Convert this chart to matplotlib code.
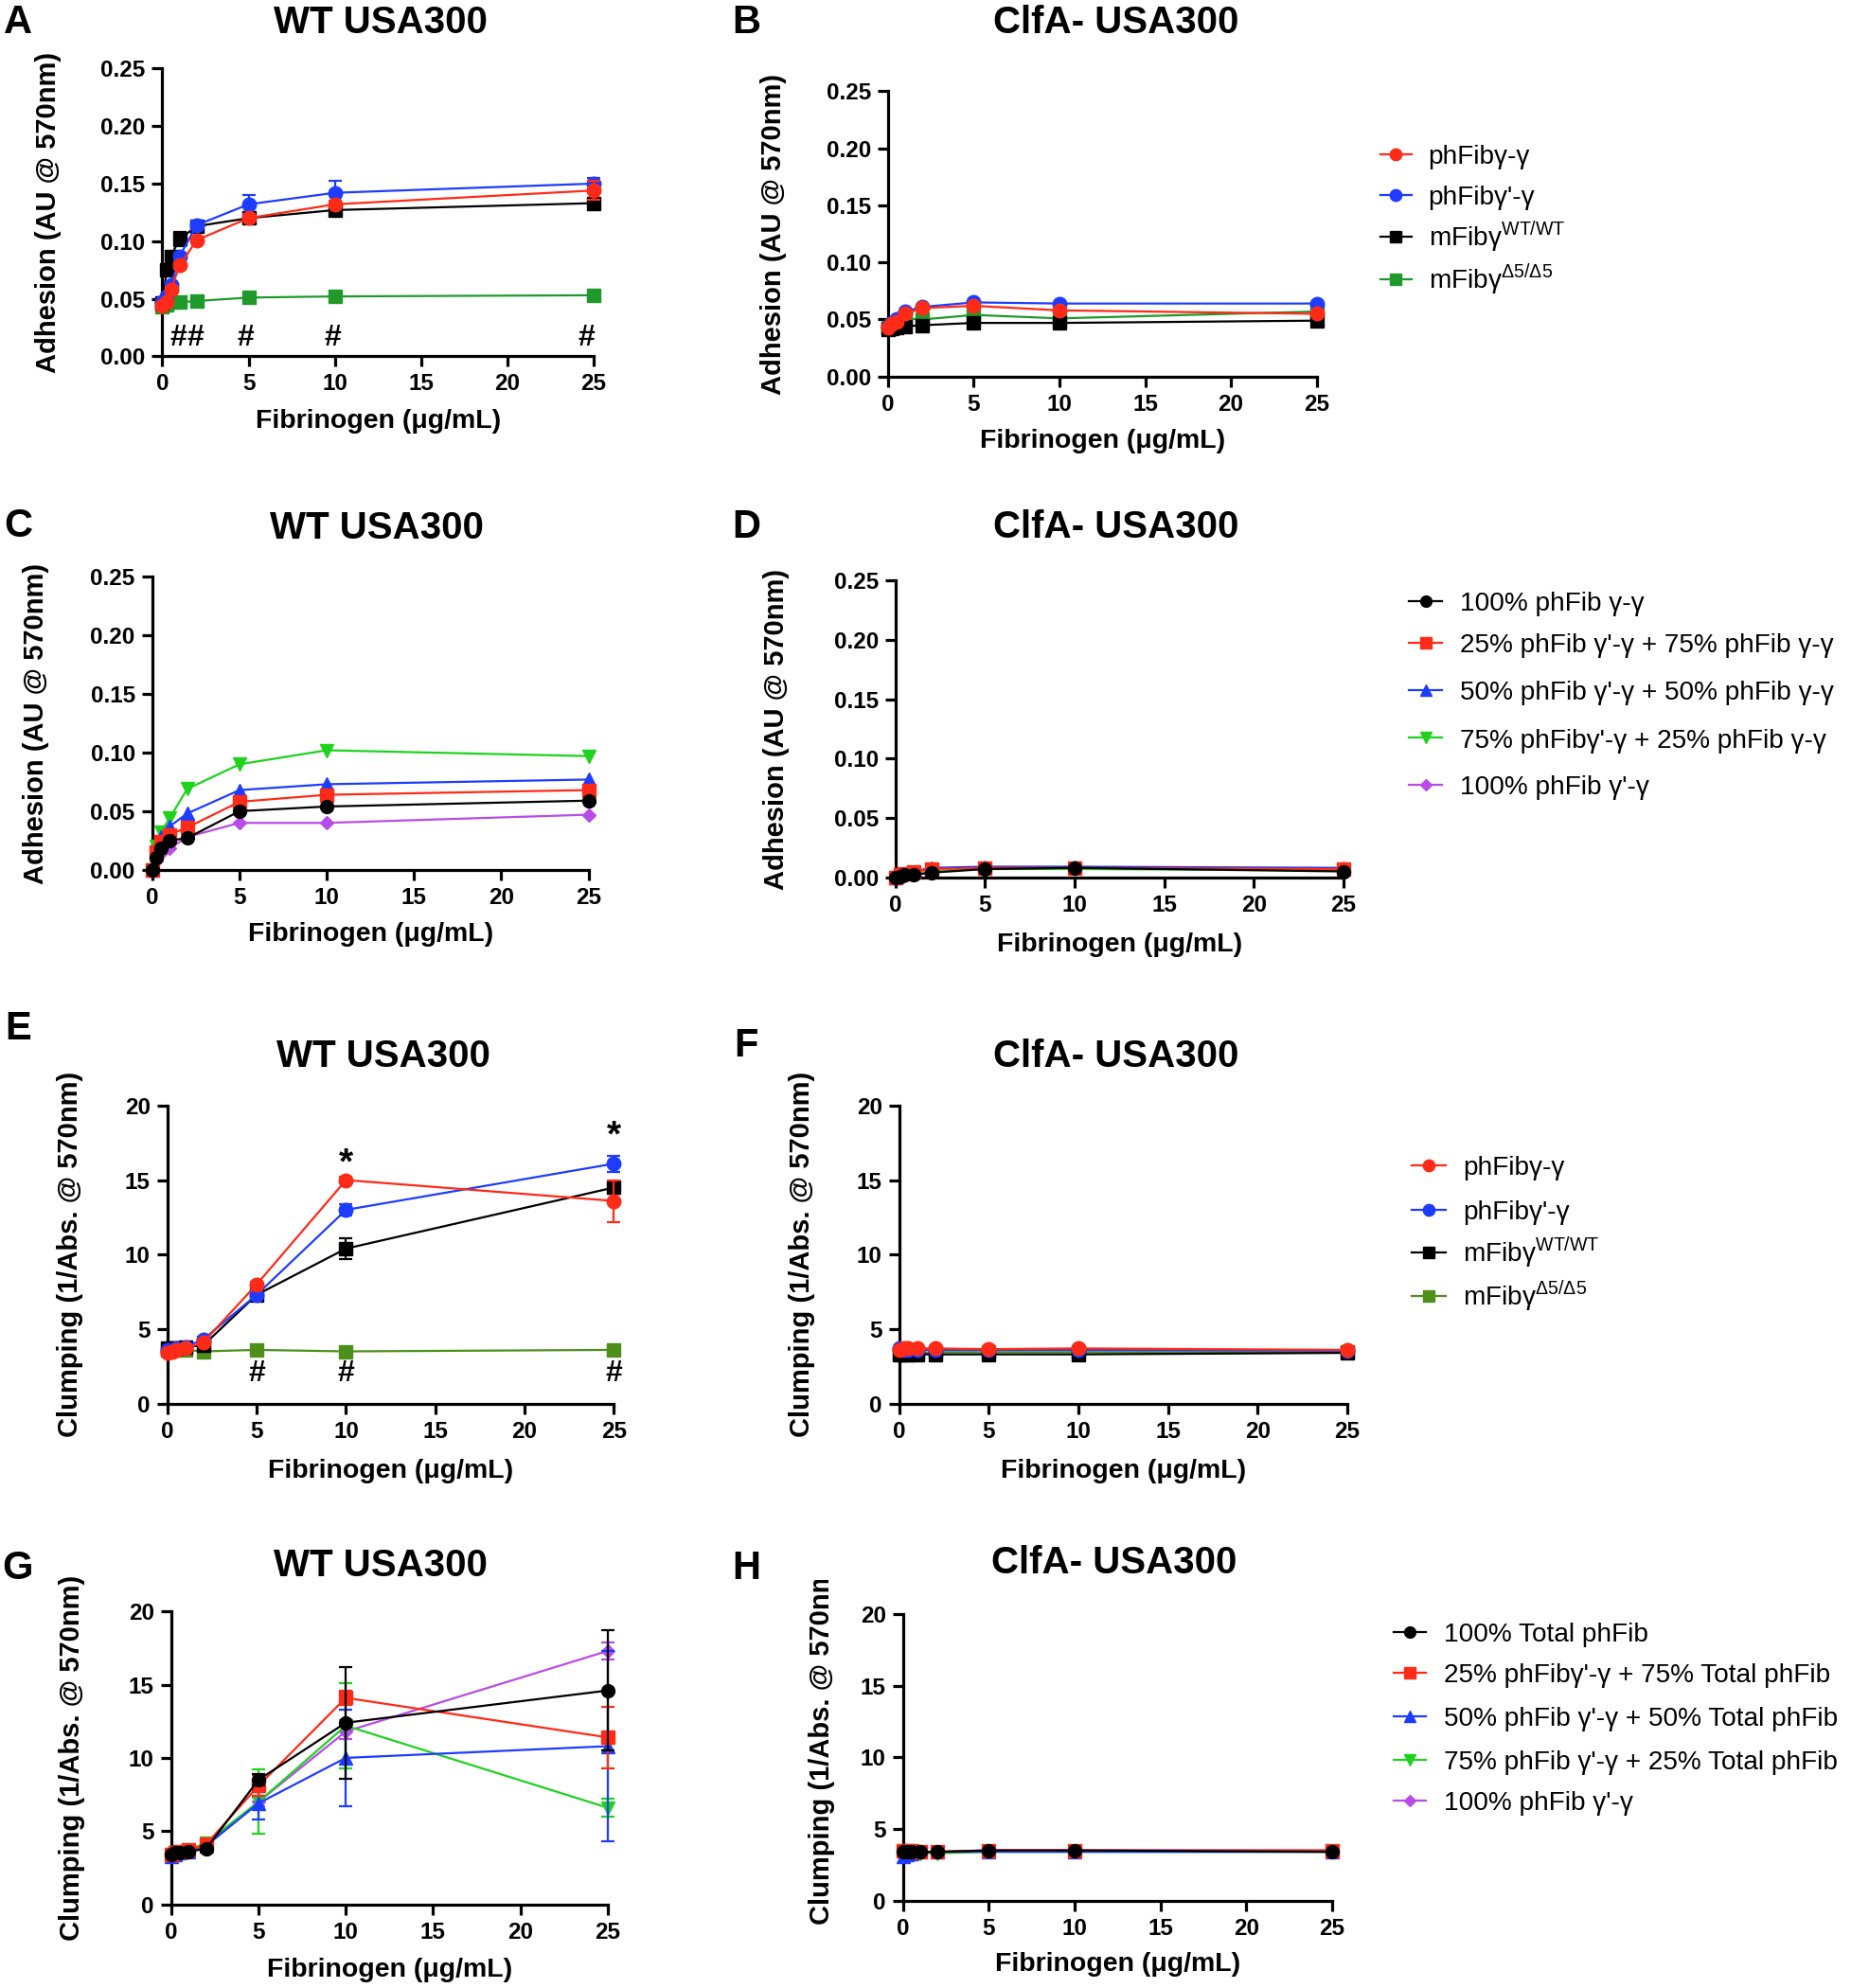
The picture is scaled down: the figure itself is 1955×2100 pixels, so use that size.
import numpy as np
import matplotlib
matplotlib.use('Agg')
import matplotlib.pyplot as plt
from matplotlib.lines import Line2D
from matplotlib.ticker import MultipleLocator, FormatStrFormatter
from matplotlib.transforms import Bbox, TransformedBbox

plt.rcParams['font.family'] = ['Liberation Sans', 'DejaVu Sans']
plt.rcParams['mathtext.fontset'] = 'custom'
plt.rcParams['mathtext.rm'] = 'Liberation Sans'

# fibrinogen concentrations (ug/mL)
fib = [0, 0.25, 0.5, 1, 2, 5, 10, 25]

# A: adhesion, WT USA300
a_red = [0.044, 0.047, 0.058, 0.079, 0.101, 0.120, 0.132, 0.144]
a_blue = [0.047, 0.052, 0.062, 0.087, 0.114, 0.132, 0.142, 0.150]
a_black = [0.046, 0.075, 0.087, 0.102, 0.113, 0.120, 0.127, 0.133]
a_green = [0.043, 0.045, 0.047, 0.047, 0.048, 0.051, 0.052, 0.053]
a_red_err = [0, 0, 0.002, 0.003, 0.002, 0.002, 0.003, 0.008]
a_blue_err = [0, 0, 0.002, 0.003, 0.004, 0.008, 0.010, 0.005]
a_black_err = [0, 0.003, 0.004, 0.006, 0.003, 0.002, 0.002, 0.003]

# B: adhesion, ClfA- USA300
b_red = [0.043, 0.046, 0.048, 0.055, 0.060, 0.062, 0.058, 0.055]
b_blue = [0.044, 0.047, 0.050, 0.057, 0.061, 0.065, 0.064, 0.064]
b_black = [0.041, 0.042, 0.043, 0.044, 0.045, 0.047, 0.047, 0.049]
b_green = [0.043, 0.045, 0.047, 0.051, 0.050, 0.054, 0.051, 0.057]

# C: adhesion with mixtures, WT USA300
c_black = [0.000, 0.010, 0.018, 0.025, 0.027, 0.050, 0.054, 0.059]
c_red = [0.000, 0.015, 0.024, 0.030, 0.036, 0.058, 0.064, 0.068]
c_blue = [0.000, 0.018, 0.028, 0.037, 0.048, 0.068, 0.073, 0.077]
c_green = [0.000, 0.020, 0.032, 0.044, 0.069, 0.090, 0.102, 0.097]
c_purple = [0.000, 0.008, 0.014, 0.018, 0.028, 0.040, 0.040, 0.047]

# D: adhesion with mixtures, ClfA- USA300
d_black = [0.000, 0.001, 0.002, 0.002, 0.004, 0.007, 0.008, 0.005]
d_red = [0.000, 0.002, 0.003, 0.005, 0.007, 0.008, 0.008, 0.007]
d_blue = [0.000, 0.002, 0.003, 0.005, 0.008, 0.009, 0.009, 0.008]
d_green = [0.000, 0.001, 0.002, 0.003, 0.005, 0.007, 0.007, 0.006]
d_purple = [0.000, 0.001, 0.002, 0.003, 0.005, 0.007, 0.008, 0.007]

# E: clumping, WT USA300
e_red = [3.4, 3.5, 3.6, 3.7, 4.1, 8.0, 15.0, 13.6]
e_blue = [3.6, 3.6, 3.7, 3.8, 4.3, 7.3, 13.0, 16.1]
e_black = [3.7, 3.7, 3.7, 3.8, 3.9, 7.3, 10.4, 14.5]
e_green = [3.6, 3.6, 3.6, 3.6, 3.5, 3.6, 3.5, 3.6]
e_red_err = [0, 0, 0, 0, 0, 0.2, 0.2, 1.4]
e_blue_err = [0, 0, 0, 0, 0.2, 0.3, 0.4, 0.55]
e_black_err = [0, 0, 0, 0, 0, 0.3, 0.7, 0.4]

# F: clumping, ClfA- USA300
f_red = [3.6, 3.7, 3.7, 3.7, 3.7, 3.65, 3.7, 3.6]
f_blue = [3.7, 3.6, 3.6, 3.6, 3.6, 3.6, 3.6, 3.55]
f_black = [3.3, 3.3, 3.3, 3.3, 3.3, 3.3, 3.3, 3.4]
f_green = [3.4, 3.4, 3.4, 3.4, 3.45, 3.45, 3.45, 3.45]

# G: clumping with mixtures, WT USA300
g_black = [3.4, 3.5, 3.5, 3.6, 3.8, 8.5, 12.4, 14.6]
g_red = [3.4, 3.5, 3.6, 3.7, 4.1, 8.1, 14.1, 11.4]
g_blue = [3.3, 3.4, 3.5, 3.6, 4.0, 6.9, 10.0, 10.8]
g_green = [3.4, 3.5, 3.6, 3.7, 4.2, 7.0, 12.2, 6.6]
g_purple = [3.4, 3.5, 3.6, 3.7, 4.0, 7.0, 11.8, 17.3]
g_black_err = [0, 0, 0, 0.1, 0.2, 0.4, 3.8, 4.1]
g_red_err = [0, 0, 0, 0.1, 0.2, 0.7, 0.5, 2.1]
g_blue_err = [0, 0, 0, 0.1, 0.2, 1.1, 3.3, 6.5]
g_green_err = [0, 0, 0, 0.1, 0.2, 2.2, 2.9, 0.6]
g_purple_err = [0, 0, 0, 0.1, 0.2, 0.3, 0.5, 0.6]

# H: clumping with mixtures, ClfA- USA300
h_black = [3.4, 3.4, 3.4, 3.4, 3.4, 3.5, 3.5, 3.4]
h_red = [3.5, 3.5, 3.5, 3.4, 3.4, 3.5, 3.5, 3.5]
h_blue = [3.1, 3.2, 3.3, 3.4, 3.4, 3.4, 3.4, 3.4]
h_green = [3.4, 3.4, 3.4, 3.3, 3.3, 3.4, 3.4, 3.4]
h_purple = [3.4, 3.4, 3.4, 3.4, 3.4, 3.5, 3.5, 3.5]

# significance marks
a_hash_x = [0.9, 1.9, 4.8, 9.9, 24.6]
a_hash_y = 0.016
e_hash_x = [5, 10, 25]
e_hash_y = 2.0
e_star_x = [10, 25]
e_star_y = [16.1, 17.9]

labels_ab = ['phFibγ-γ', "phFibγ'-γ", r'mFibγ$^{\mathregular{WT/WT}}$',
             r'mFibγ$^{\mathregular{Δ5/Δ5}}$']
labels_cd = ['100% phFib γ-γ', "25% phFib γ'-γ + 75% phFib γ-γ",
             "50% phFib γ'-γ + 50% phFib γ-γ", "75% phFibγ'-γ + 25% phFib γ-γ",
             "100% phFib γ'-γ"]
labels_gh = ['100% Total phFib', "25% phFibγ'-γ + 75% Total phFib",
             "50% phFib γ'-γ + 50% Total phFib", "75% phFib γ'-γ + 25% Total phFib",
             "100% phFib γ'-γ"]

RED = '#ff2a17'
BLUE = '#1e3cff'
BLACK = '#000000'
GREEN_AB = '#1f9a2a'
GREEN_EF = '#4e8f1c'
GREEN_C = '#1ed21e'
PURPLE = '#b94ce8'

W, H = 1460.0, 1568.0  # layout measured in reference display pixels


def fx(x):
    return x / W


def fy(y):
    return 1 - y / H


fig = plt.figure(figsize=(19.56, 21.0), dpi=100)


def make_axes(l, r, t, b, ymax, ystep, fmt, ylabel, ylab_x, xlab_y, ylab_y=None):
    ax = fig.add_axes([fx(l), fy(b), (r - l) / W, (b - t) / H])
    ax.set_xlim(0, 25)
    ax.set_ylim(0, ymax)
    ax.xaxis.set_major_locator(MultipleLocator(5))
    ax.yaxis.set_major_locator(MultipleLocator(ystep))
    ax.yaxis.set_major_formatter(FormatStrFormatter(fmt))
    for s in ['top', 'right']:
        ax.spines[s].set_visible(False)
    for s in ['left', 'bottom']:
        ax.spines[s].set_linewidth(2.3)
    ax.tick_params(direction='out', length=8, width=2.3, labelsize=17.5, pad=5)
    for lab in ax.get_xticklabels() + ax.get_yticklabels():
        lab.set_fontweight('bold')
    ax.set_xlabel('Fibrinogen (μg/mL)', fontsize=20.5, fontweight='bold', va='center')
    ax.set_ylabel(ylabel, fontsize=21, fontweight='bold', va='center')
    ax.xaxis.set_label_coords(0.5, (b - xlab_y) / (b - t))
    if ylab_y is None:
        ylab_y = (t + b) / 2
    ax.yaxis.set_label_coords((ylab_x - l) / (r - l), (b - ylab_y) / (b - t))
    return ax


def draw(ax, series):
    # series: list of (values, errors, colour, marker, size); first one drawn on top
    n = len(series)
    for i, (vals, err, col, mk, ms) in enumerate(series):
        z = 10 + n - i
        ax.plot(fib, vals, color=col, marker=mk, markersize=ms, lw=1.6,
                clip_on=False, zorder=z)
        if err is not None:
            e = np.array(err)
            m = e > 0
            ax.errorbar(np.array(fib)[m], np.array(vals)[m], yerr=e[m], fmt='none',
                        ecolor=col, elinewidth=1.6, capsize=5, capthick=1.6,
                        clip_on=False, zorder=z)


def add_legend(labels, styles, hx0, hx1, tx, rows):
    for lab, (c, m, ms), ry in zip(labels, styles, rows):
        fig.add_artist(Line2D([fx(hx0), fx(hx1)], [fy(ry), fy(ry)],
                              transform=fig.transFigure, color=c, lw=1.6))
        fig.add_artist(Line2D([fx((hx0 + hx1) / 2)], [fy(ry)], transform=fig.transFigure,
                              color=c, marker=m, markersize=ms * 0.85))
        fig.text(fx(tx), fy(ry + 7.5), lab, fontsize=20.2, ha='left', va='baseline')


def heading(letter, lx, ly, title, tx, ty):
    fig.text(fx(lx), fy(ly), letter, fontsize=30, fontweight='bold', ha='center', va='center')
    fig.text(fx(tx), fy(ty), title, fontsize=29, fontweight='bold', ha='center', va='center')


adh = 'Adhesion (AU @ 570nm)'
clu = 'Clumping (1/Abs. @ 570nm)'
fib_styles = [(RED, 'o', 10.5), (BLUE, 'o', 10.5), (BLACK, 's', 9.5)]
mix_styles = [(BLACK, 'o', 10), (RED, 's', 9.5), (BLUE, '^', 10), (GREEN_C, 'v', 10),
              (PURPLE, 'D', 7.5)]

# ---- A
ax = make_axes(128, 468, 54, 281, 0.25, 0.05, '%.2f', adh, 38, 332)
draw(ax, [(v, e, c, m, s) for v, e, (c, m, s) in
          zip([a_red, a_blue, a_black, a_green], [a_red_err, a_blue_err, a_black_err, None],
              fib_styles + [(GREEN_AB, 's', 9.5)])])
for xh in a_hash_x:
    ax.text(xh, a_hash_y, '#', fontsize=23, fontweight='bold', ha='center', va='center')
heading('A', 14, 18, 'WT USA300', 300, 18)

# ---- B
ax = make_axes(700, 1038, 72, 297, 0.25, 0.05, '%.2f', adh, 610, 348)
draw(ax, [(v, None, c, m, s) for v, (c, m, s) in
          zip([b_red, b_blue, b_black, b_green], fib_styles + [(GREEN_AB, 's', 9.5)])])
heading('B', 588, 18, 'ClfA- USA300', 880, 18)
add_legend(labels_ab, fib_styles + [(GREEN_AB, 's', 9.5)], 1088, 1113, 1126,
           [122, 154, 187, 220])

# ---- C
ax = make_axes(120, 464, 455, 686, 0.25, 0.05, '%.2f', adh, 28, 737)
draw(ax, [(v, None, c, m, s) for v, (c, m, s) in
          zip([c_black, c_red, c_blue, c_green, c_purple], mix_styles)])
heading('C', 14, 415, 'WT USA300', 297, 417)

# ---- D
ax = make_axes(706, 1059, 458, 692, 0.25, 0.05, '%.2f', adh, 612, 745)
draw(ax, [(v, None, c, m, s) for v, (c, m, s) in
          zip([d_black, d_red, d_blue, d_green, d_purple], mix_styles)])
heading('D', 588, 416, 'ClfA- USA300', 880, 416)
add_legend(labels_cd, mix_styles, 1111, 1137, 1151, [474, 507, 544, 582, 619])

# ---- E
ax = make_axes(132, 484, 872, 1107, 20, 5, '%d', clu, 55, 1160)
draw(ax, [(v, e, c, m, s) for v, e, (c, m, s) in
          zip([e_red, e_blue, e_black, e_green], [e_red_err, e_blue_err, e_black_err, None],
              fib_styles + [(GREEN_EF, 's', 9.5)])])
for xh in e_hash_x:
    ax.text(xh, e_hash_y, '#', fontsize=23, fontweight='bold', ha='center', va='center')
for xs, ys in zip(e_star_x, e_star_y):
    ax.text(xs, ys, '*', fontsize=28, fontweight='bold', ha='center', va='center', clip_on=False)
heading('E', 14, 812, 'WT USA300', 302, 833)

# ---- F
ax = make_axes(709, 1062, 872, 1107, 20, 5, '%d', clu, 632, 1160)
draw(ax, [(v, None, c, m, s) for v, (c, m, s) in
          zip([f_red, f_blue, f_black, f_green], fib_styles + [(GREEN_EF, 's', 9.5)])])
heading('F', 588, 825, 'ClfA- USA300', 880, 833)
add_legend(labels_ab, fib_styles + [(GREEN_EF, 's', 9.5)], 1113, 1140, 1153,
           [919, 954, 988, 1022])

# ---- G
ax = make_axes(135, 479, 1271, 1502, 20, 5, '%d', clu, 57, 1554)
draw(ax, [(v, e, c, m, s) for v, e, (c, m, s) in
          zip([g_black, g_red, g_blue, g_green, g_purple],
              [g_black_err, g_red_err, g_blue_err, g_green_err, g_purple_err], mix_styles)])
heading('G', 14, 1237, 'WT USA300', 300, 1235)

# ---- H
ax = make_axes(712, 1050, 1273, 1499, 20, 5, '%d', clu, 648, 1549, ylab_y=1374)
draw(ax, [(v, None, c, m, s) for v, (c, m, s) in
          zip([h_black, h_red, h_blue, h_green, h_purple], mix_styles)])
# the y label is cut off at its top end in the original figure
ax.yaxis.label.set_clip_box(TransformedBbox(Bbox([[0, 0], [1, fy(1246)]]), fig.transFigure))
ax.yaxis.label.set_clip_on(True)
heading('H', 588, 1237, 'ClfA- USA300', 878, 1233)
add_legend(labels_gh, mix_styles, 1099, 1124, 1138, [1287, 1319, 1354, 1388, 1420])

fig.savefig('out.png', dpi=100, facecolor='white')
